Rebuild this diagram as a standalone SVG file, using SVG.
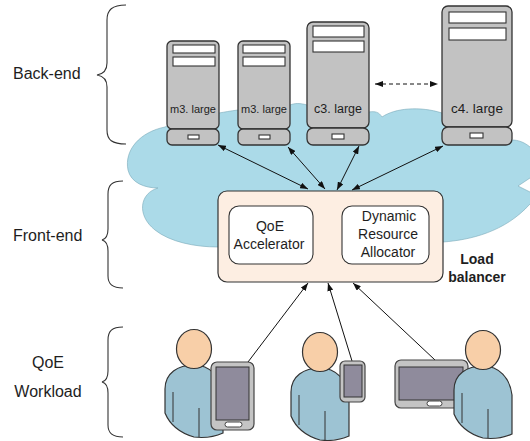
<svg xmlns="http://www.w3.org/2000/svg" width="530" height="441" viewBox="0 0 530 441">
  <style>
    text { font-family: "Liberation Sans", Arial, sans-serif; fill: #1e1e1e; }
    .tier { font-size: 16px; }
    .box-label { font-size: 14px; text-anchor: middle; }
    .brace { fill: none; stroke: #333; stroke-width: 1.1; }
    .srv { fill: #c2c2c2; stroke: #333; stroke-width: 1.3; }
    .slot { fill: #fff; stroke: #333; stroke-width: 1.1; }
    .link { fill: none; stroke: #111; stroke-width: 1; }
    .dev { fill: #c4c4c4; stroke: #444; stroke-width: 1.2; }
    .screen { fill: #8f8b9c; stroke: #333; stroke-width: 1; }
    .btn { fill: #fff; stroke: #444; stroke-width: 1; }
  </style>
  <defs>
    <marker id="head" viewBox="0 0 8 6" refX="8" refY="3" markerWidth="8" markerHeight="6" orient="auto-start-reverse" markerUnits="userSpaceOnUse">
      <path d="M0,0 L8,3 L0,6 Z" fill="#111"/>
    </marker>
    <!-- person figure, origin at head centre -->
    <g id="person">
      <path d="M-29,64 L-29,40 C-29,24 -16,16 0,16 C16,16 27,28 29,45 L29,84 C20,88 8,89 0,88 C-14,84 -24,76 -29,64 Z" fill="#9dc3d3" stroke="#333" stroke-width="1.2"/>
      <path d="M-21,43 L-21,73 M5,59 L5,88" fill="none" stroke="#333" stroke-width="1"/>
      <ellipse cx="0" cy="0" rx="17.5" ry="19.5" fill="#f8cfa8" stroke="#333" stroke-width="1.2"/>
    </g>
  </defs>

  <!-- tier braces and labels -->
  <g id="tiers">
    <path class="brace" d="M126,5 C112,5 107,10 107,20 L107,63 C107,70 103,74 97,75 C103,76 107,80 107,87 L107,130 C107,140 112,144 126,144"/>
    <text class="tier" x="13" y="79">Back-end</text>
    <path class="brace" d="M123,181 C112,181 108,185 108,194 L108,229 C108,236 106,239 102,240 C106,241 108,244 108,251 L108,276 C108,284 112,288 123,288"/>
    <text class="tier" x="13" y="241">Front-end</text>
    <path class="brace" d="M123,327 C112,327 108,331 108,340 L108,371 C108,378 106,381 102,382 C106,383 108,386 108,393 L108,425 C108,433 112,437 123,437"/>
    <text class="tier" x="48" y="368" text-anchor="middle">QoE</text>
    <text class="tier" x="48" y="397" text-anchor="middle">Workload</text>
  </g>

  <!-- network cloud -->
  <path id="cloud" d="M165,127 C140,132 124,150 128,170 C131,183 145,188 158,188 C140,193 136,215 155,230 C170,242 195,247 218,247 L443,242 C470,240 505,232 530,204 L540,200 L540,193 L530,192 L518,186 L530,178 L540,175 L540,145 L530,147 C524,142 518,140 512,140 L442,113 C420,106 395,108 382,117 C379,112 375,111 369,112 L307,105 C300,103 295,103 290,105 L238,110 C230,111 225,112 219,113 L167,126 Z" fill="#abdae8" stroke="#7aa9b8" stroke-width="0.6"/>

  <!-- back-end servers -->
  <g id="srv-m3a">
    <rect class="srv" x="167" y="41" width="52" height="88" rx="5"/>
    <rect class="srv" x="167" y="129" width="52" height="16" rx="5"/>
    <rect class="slot" x="173" y="45" width="42" height="8"/>
    <rect class="slot" x="173" y="57" width="42" height="9"/>
    <rect class="slot" x="188" y="135" width="11" height="4"/>
    <text x="193" y="113" font-size="11" text-anchor="middle">m3. large</text>
  </g>
  <g id="srv-m3b">
    <rect class="srv" x="238" y="41" width="52" height="88" rx="5"/>
    <rect class="srv" x="238" y="129" width="52" height="16" rx="5"/>
    <rect class="slot" x="243" y="45" width="42" height="8"/>
    <rect class="slot" x="243" y="57" width="42" height="9"/>
    <rect class="slot" x="259" y="135" width="11" height="4"/>
    <text x="264" y="113" font-size="11" text-anchor="middle">m3. large</text>
  </g>
  <g id="srv-c3">
    <rect class="srv" x="307" y="22" width="62" height="106" rx="6"/>
    <rect class="srv" x="307" y="128" width="62" height="17" rx="6"/>
    <rect class="slot" x="313" y="26" width="51" height="11"/>
    <rect class="slot" x="313" y="41" width="51" height="11"/>
    <rect class="slot" x="332" y="134" width="12" height="5"/>
    <text x="338" y="113" font-size="12.5" text-anchor="middle">c3. large</text>
  </g>
  <g id="srv-c4">
    <rect class="srv" x="442" y="6" width="70" height="121" rx="6"/>
    <rect class="srv" x="442" y="127" width="70" height="18" rx="6"/>
    <rect class="slot" x="449" y="12" width="57" height="11"/>
    <rect class="slot" x="449" y="28" width="57" height="12"/>
    <rect class="slot" x="470" y="133" width="13" height="5"/>
    <text x="477" y="113" font-size="13.5" text-anchor="middle">c4. large</text>
  </g>

  <!-- connectors -->
  <g id="connectors">
    <path class="link" d="M375,84 L438,84" stroke-dasharray="4,3" marker-start="url(#head)" marker-end="url(#head)"/>
    <path class="link" d="M308,189 L218,145" marker-start="url(#head)" marker-end="url(#head)"/>
    <path class="link" d="M325,189 L288,147" marker-start="url(#head)" marker-end="url(#head)"/>
    <path class="link" d="M337,190 L359,146" marker-start="url(#head)" marker-end="url(#head)"/>
    <path class="link" d="M352,190 L443,146" marker-start="url(#head)" marker-end="url(#head)"/>
    <path class="link" d="M313,235 L342,235" marker-start="url(#head)" marker-end="url(#head)"/>
    <path class="link" d="M248,362 L308,283" marker-end="url(#head)"/>
    <path class="link" d="M352,361 L328,283" marker-end="url(#head)"/>
    <path class="link" d="M435,360 L353,283" marker-end="url(#head)"/>
  </g>

  <!-- load balancer -->
  <g id="load-balancer">
    <rect x="218" y="191" width="225" height="91" rx="9" fill="#fdeee2" stroke="#333" stroke-width="1.2"/>
    <text x="477" y="264" font-size="14" font-weight="bold" text-anchor="middle">Load</text>
    <text x="477" y="282" font-size="14" font-weight="bold" text-anchor="middle">balancer</text>
  </g>
  <g id="qoe-accelerator">
    <rect x="229" y="206" width="84" height="58" rx="10" fill="#fff" stroke="#333" stroke-width="1.1"/>
    <text class="box-label" x="270" y="231">QoE</text>
    <text class="box-label" x="269" y="249">Accelerator</text>
  </g>
  <g id="resource-allocator">
    <rect x="342" y="206" width="87" height="58" rx="10" fill="#fff" stroke="#333" stroke-width="1.1"/>
    <text class="box-label" x="389" y="221">Dynamic</text>
    <text class="box-label" x="388" y="239">Resource</text>
    <text class="box-label" x="388" y="257">Allocator</text>
  </g>

  <!-- workload: users with devices -->
  <g id="user-tablet">
    <use href="#person" x="194" y="349"/>
    <rect class="dev" x="211" y="362" width="43" height="68" rx="6"/>
    <rect class="screen" x="216" y="367" width="33" height="53"/>
    <rect class="btn" x="225" y="422" width="17" height="5" rx="2.5"/>
  </g>
  <g id="user-phone">
    <use href="#person" x="320" y="352"/>
    <rect class="dev" x="340" y="361" width="25" height="41" rx="5"/>
    <rect class="screen" x="344" y="365" width="18" height="32"/>
  </g>
  <g id="user-laptop">
    <rect class="dev" x="395" y="360" width="73" height="48" rx="6"/>
    <rect class="screen" x="399" y="367" width="64" height="33"/>
    <rect class="btn" x="427" y="401" width="15" height="5" rx="2.5"/>
    <use href="#person" x="483" y="350"/>
  </g>
</svg>
